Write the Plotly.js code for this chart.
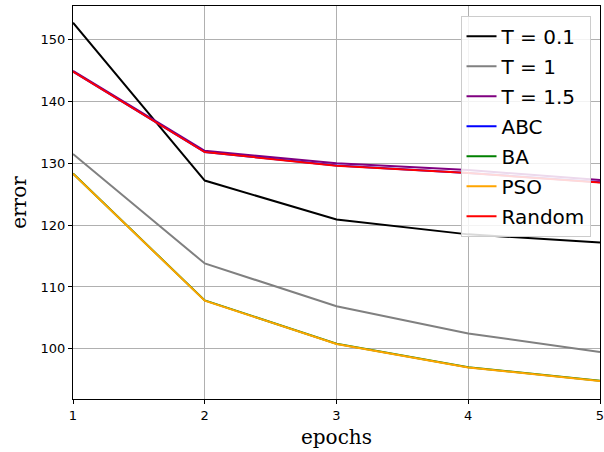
<!DOCTYPE html>
<html>
<head>
<meta charset="utf-8">
<script src="https://cdn.plot.ly/plotly-3.0.1.min.js"></script>
<style>html,body{margin:0;padding:0;background:#fff;}#chart{width:604px;height:452px;}</style>
</head>
<body>
<div id="chart"></div>
<script>
const epochs = [1, 2, 3, 4, 5];
const seriesNames = ["T = 0.1", "T = 1", "T = 1.5", "ABC", "BA", "PSO", "Random"];
const t01 = [152.7, 127.2, 120.9, 118.5, 117.2];
const t1 = [131.5, 113.8, 106.9, 102.5, 99.5];
const t15 = [144.9, 132.0, 130.0, 128.9, 127.3];
const abc = [144.8, 131.82, 129.63, 128.43, 126.93];
const ba = [128.33, 107.83, 100.83, 97.03, 94.85];
const pso = [128.3, 107.8, 100.8, 97.0, 94.8];
const rnd = [144.8, 131.8, 129.6, 128.4, 126.9];
const seriesValues = [t01, t1, t15, abc, ba, pso, rnd];
const colors = ["#000000", "#808080", "#800080", "#0000ff", "#008000", "#ffa500", "#ff0000"];

const traces = seriesNames.map((n, i) => ({
  x: epochs, y: seriesValues[i], name: n, type: "scatter", mode: "lines",
  legendgroup: "g" + i,
  line: {color: colors[i], width: 2}
}));

const layout = {
  width: 604, height: 452,
  margin: {l: 73, r: 4, t: 6, b: 53},
  paper_bgcolor: "#fff", plot_bgcolor: "#fff",
  font: {family: "DejaVu Sans", color: "#000"},
  xaxis: {
    range: [1, 5], tickvals: epochs, ticktext: ["1", "2", "3", "4", "5"],
    ticklabeloverflow: "allow",
    showgrid: true, gridcolor: "#b0b0b0", gridwidth: 1,
    showline: true, linecolor: "#000", linewidth: 1, mirror: true,
    ticks: "outside", ticklen: 4, tickcolor: "#000",
    tickfont: {size: 13, family: "DejaVu Sans"}, zeroline: false,
    title: {text: "epochs", font: {family: "DejaVu Serif", size: 20}, standoff: 8}
  },
  yaxis: {
    range: [91.9, 155.4], tickvals: [100, 110, 120, 130, 140, 150],
    showgrid: true, gridcolor: "#b0b0b0", gridwidth: 1,
    showline: true, linecolor: "#000", linewidth: 1, mirror: true,
    ticks: "outside", ticklen: 4, tickcolor: "#000",
    tickfont: {size: 13, family: "DejaVu Sans"}, zeroline: false,
    title: {text: "error", font: {family: "DejaVu Serif", size: 20}, standoff: 8}
  },
  legend: {
    x: 0.982, y: 0.975, xanchor: "right", yanchor: "top",
    bgcolor: "rgba(255,255,255,0.85)", bordercolor: "#cccccc", borderwidth: 1,
    font: {size: 20, family: "DejaVu Sans"}, tracegroupgap: 1
  },
  showlegend: true
};

Plotly.newPlot("chart", traces, layout, {displayModeBar: false, staticPlot: true});
</script>
</body>
</html>
